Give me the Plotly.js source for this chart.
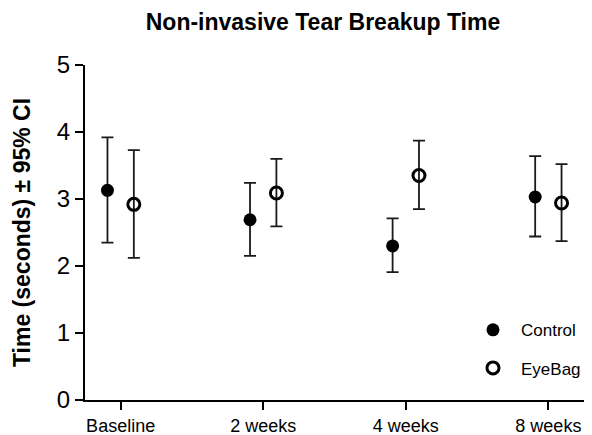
<!DOCTYPE html>
<html>
<head>
<meta charset="utf-8">
<script src="https://cdn.plot.ly/plotly-3.0.1.min.js"></script>
<style>html,body{margin:0;padding:0;background:#fff;}#chart{width:592px;height:435px;}</style>
</head>
<body>
<div id="chart"></div>
<script>
const categories = ["Baseline", "2 weeks", "4 weeks", "8 weeks"];
const controlMean = [3.13, 2.69, 2.30, 3.03];
const controlUpper = [3.92, 3.24, 2.71, 3.64];
const controlLower = [2.35, 2.15, 1.91, 2.44];
const eyebagMean = [2.92, 3.09, 3.35, 2.94];
const eyebagUpper = [3.73, 3.60, 3.87, 3.52];
const eyebagLower = [2.12, 2.59, 2.85, 2.37];
const yTicks = [0, 1, 2, 3, 4, 5];

function errBars(mean, up, lo) {
  return {
    type: 'data', symmetric: false,
    array: up.map((u, i) => u - mean[i]),
    arrayminus: mean.map((m, i) => m - lo[i]),
    color: '#1a1a1a', thickness: 1.8, width: 6
  };
}

const traces = [
  {
    type: 'scatter', mode: 'markers', name: 'Control', legendgroup: 'a',
    x: categories, y: controlMean,
    marker: {symbol: 'circle', size: 13, color: '#000'},
    error_y: errBars(controlMean, controlUpper, controlLower)
  },
  {
    type: 'scatter', mode: 'markers', name: 'EyeBag', legendgroup: 'b',
    x: categories, y: eyebagMean,
    marker: {symbol: 'circle-open', size: 12, color: '#000', line: {width: 3, color: '#000'}},
    error_y: errBars(eyebagMean, eyebagUpper, eyebagLower)
  }
];

const layout = {
  width: 592, height: 435,
  margin: {l: 85, r: 7, t: 65, b: 35},
  paper_bgcolor: '#fff', plot_bgcolor: '#fff',
  scattermode: 'group', scattergap: 0.63,
  font: {family: 'Liberation Sans, Arial, sans-serif', color: '#000'},
  title: {
    text: '<b>Non-invasive Tear Breakup Time</b>',
    font: {size: 23, color: '#000'},
    x: 323 / 592, xanchor: 'center', xref: 'container', y: 1 - 22 / 435, yanchor: 'middle', yref: 'container'
  },
  xaxis: {
    type: 'category', range: [-0.25, 3.25],
    showgrid: false, zeroline: false,
    showline: true, linecolor: '#000', linewidth: 2,
    ticks: 'outside', ticklen: 8, tickwidth: 2, tickcolor: '#000',
    tickfont: {size: 18, color: '#000'}
  },
  yaxis: {
    range: [0, 5], tickvals: yTicks, ticktext: yTicks.map(String),
    showgrid: false, zeroline: false,
    showline: true, linecolor: '#000', linewidth: 2,
    ticks: 'outside', ticklen: 8, tickwidth: 2, tickcolor: '#000',
    tickfont: {size: 24, color: '#000'},
    title: {text: '<b>Time (seconds) ± 95% CI</b>', font: {size: 23, color: '#000'}, standoff: 20}
  },
  showlegend: true,
  legend: {
    x: 0.76, xanchor: 'left', y: 0.262, yanchor: 'top',
    font: {size: 17, color: '#000'},
    itemwidth: 46, tracegroupgap: 13, traceorder: 'grouped',
    bgcolor: 'rgba(0,0,0,0)', borderwidth: 0
  }
};

Plotly.newPlot('chart', traces, layout, {displayModeBar: false, staticPlot: true});
</script>
</body>
</html>
